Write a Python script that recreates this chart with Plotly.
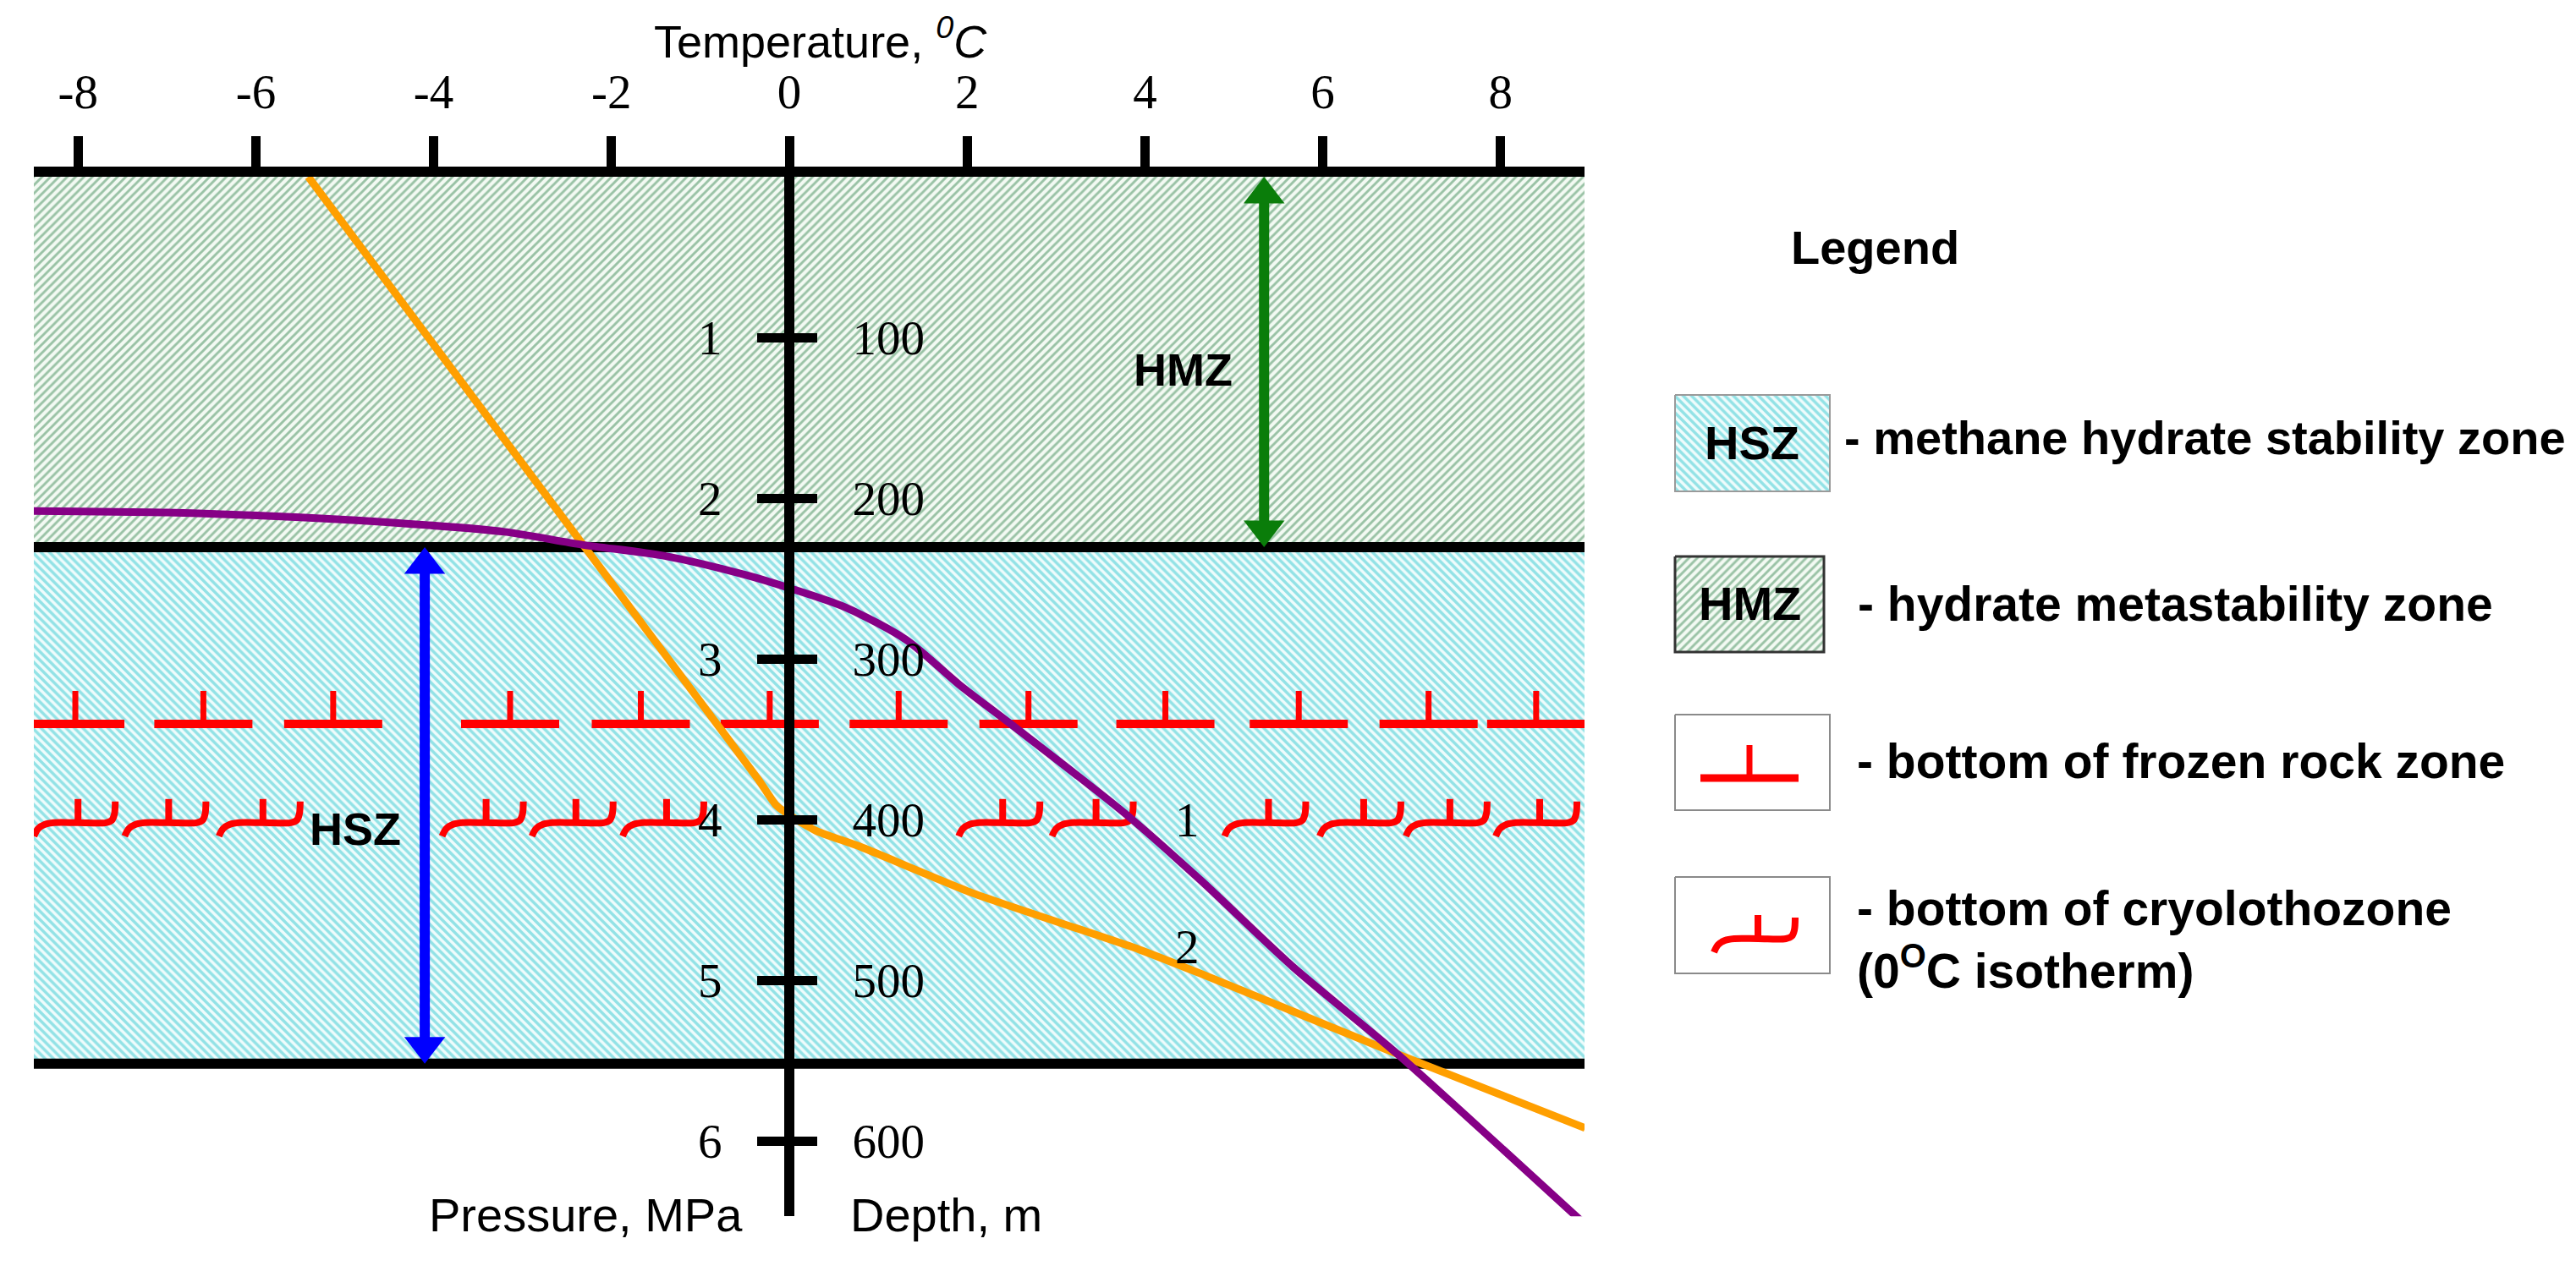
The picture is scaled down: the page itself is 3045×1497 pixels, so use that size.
import plotly.graph_objects as go

W, H = 3045, 1497

# ---------------- data ----------------
temp_ticks = [-8, -6, -4, -2, 0, 2, 4, 6, 8]
temp_tick_text = ["-8", "-6", "-4", "-2", "0", "2", "4", "6", "8"]
pressure_ticks = [1, 2, 3, 4, 5, 6]
depth_ticks = [100, 200, 300, 400, 500, 600]

hmz_bottom = 2.305  # MPa, base of hydrate metastability zone
hsz_bottom = 5.52   # MPa, base of hydrate stability zone

# curve 1 (purple) : hydrate equilibrium
curve1_t = [-8.55, -7.0, -5.5, -4.27, -3.2, -2.33, -1.4, -0.48, 0.0, 0.63, 1.31,
            1.91, 2.5, 3.77, 4.63, 5.65, 6.84, 8.04, 8.95]
curve1_p = [2.08, 2.09, 2.12, 2.16, 2.21, 2.29, 2.36, 2.48, 2.56, 2.68, 2.88,
            3.16, 3.41, 3.96, 4.38, 4.91, 5.46, 6.06, 6.52]
# curve 2 (orange) : geotherm
curve2_t = [-5.41, -0.35, -0.15, 0.05, 0.3, 0.8, 2.07, 3.94, 4.63, 6.84, 8.95]
curve2_p = [0.0, 3.75, 3.91, 3.99, 4.07, 4.17, 4.46, 4.81, 4.96, 5.46, 5.92]

frozen_p = 3.405
frozen_t = [-8.03, -6.59, -5.13, -3.14, -1.67, -0.22, 1.23, 2.69, 4.23, 5.73, 7.19, 8.40]
cryo_p = 4.02
cryo_t = [-8.0, -6.98, -5.92, -3.41, -2.40, -1.38, 2.40, 3.45, 5.39, 6.46, 7.43, 8.44]

hmz_arrow_t = 5.34
hsz_arrow_t = -4.10

# ---------------- layout constants ----------------
PX_L, PX_R = 32, 1865          # plot area in pixels
PX_T = 201
PX_PER_C = 105.1
PX_PER_MPA = 190.0
X0_PX = 925                    # pixel of T = 0
T_MIN = (PX_L - X0_PX) / PX_PER_C
T_MAX = (PX_R - X0_PX) / PX_PER_C
P_MAX = 6.47
PX_B = PX_T + P_MAX * PX_PER_MPA

RED = "#ff0000"
ORANGE = "#ff9f00"
PURPLE = "#860086"
GREEN = "#0a7d0a"
BLUE = "#0000ff"
SERIF = "Liberation Serif, Times New Roman, serif"
SANS = "Liberation Sans, Arial, sans-serif"

HMZ_PAT = dict(shape="/", fgcolor="#3f8a57", bgcolor="#f3faf3", size=7, solidity=0.42)
HSZ_PAT = dict(shape="\\", fgcolor="#36c8d0", bgcolor="#effcfc", size=7, solidity=0.5)

# symbol templates in pixels (dx, dy), dy positive downward
frozen_bar = [[(-58, 0), (58, 0)]]
frozen_stub = [[(0, 0), (0, -39)]]
cryo_hook = [[(-52, 16), (-47, 7), (-39, 2), (-28, 0), (0, 0), (33, 0), (40, -3), (43, -10), (44, -25)]]
cryo_stub = [[(0, 0), (0, -28)]]


def build(centers, base, template, sx, sy):
    xs, ys = [], []
    for c in centers:
        for seg in template:
            for dx, dy in seg:
                xs.append(c + dx / sx)
                ys.append(base + dy / sy)
            xs.append(None)
            ys.append(None)
    return xs, ys


fig = go.Figure()

# zones
fig.add_trace(go.Scatter(x=[T_MIN, T_MAX, T_MAX, T_MIN, T_MIN], y=[0, 0, hmz_bottom, hmz_bottom, 0],
                         fill="toself", mode="none", fillcolor=HMZ_PAT["bgcolor"], fillpattern=HMZ_PAT))
fig.add_trace(go.Scatter(x=[T_MIN, T_MAX, T_MAX, T_MIN, T_MIN],
                         y=[hmz_bottom, hmz_bottom, hsz_bottom, hsz_bottom, hmz_bottom],
                         fill="toself", mode="none", fillcolor=HSZ_PAT["bgcolor"], fillpattern=HSZ_PAT))

# zone boundaries
for pb in [hmz_bottom, hsz_bottom]:
    fig.add_trace(go.Scatter(x=[T_MIN, T_MAX], y=[pb, pb], mode="lines",
                             line=dict(color="black", width=12)))

# red symbols
x, y = build(frozen_t, frozen_p, frozen_bar, PX_PER_C, PX_PER_MPA)
fig.add_trace(go.Scatter(x=x, y=y, mode="lines", line=dict(color=RED, width=10)))
x, y = build(frozen_t, frozen_p, frozen_stub, PX_PER_C, PX_PER_MPA)
fig.add_trace(go.Scatter(x=x, y=y, mode="lines", line=dict(color=RED, width=7)))
x, y = build(cryo_t, cryo_p, cryo_hook, PX_PER_C, PX_PER_MPA)
fig.add_trace(go.Scatter(x=x, y=y, mode="lines", line=dict(color=RED, width=8, shape="spline")))
x, y = build(cryo_t, cryo_p, cryo_stub, PX_PER_C, PX_PER_MPA)
fig.add_trace(go.Scatter(x=x, y=y, mode="lines", line=dict(color=RED, width=8)))

# curves
fig.add_trace(go.Scatter(x=curve2_t, y=curve2_p, mode="lines",
                         line=dict(color=ORANGE, width=9, shape="spline", smoothing=0.5)))
fig.add_trace(go.Scatter(x=curve1_t, y=curve1_p, mode="lines",
                         line=dict(color=PURPLE, width=9, shape="spline", smoothing=0.8)))

# double-headed arrows (shaft + triangle heads)
HEAD = 42
head_off = (HEAD / 2) / PX_PER_MPA
for t, p_top, p_bot, col in [(hmz_arrow_t, 0.0, hmz_bottom, GREEN),
                             (hsz_arrow_t, hmz_bottom, hsz_bottom, BLUE)]:
    fig.add_trace(go.Scatter(x=[t, t], y=[p_top + head_off, p_bot - head_off], mode="lines",
                             line=dict(color=col, width=12)))
    fig.add_trace(go.Scatter(x=[t, t], y=[p_top + head_off, p_bot - head_off], mode="markers",
                             marker=dict(symbol=["triangle-up", "triangle-down"], size=HEAD,
                                         color=col, line=dict(width=0))))

# depth axis carrier (invisible)
fig.add_trace(go.Scatter(x=[0], y=[0], yaxis="y2", mode="markers", marker=dict(opacity=0)))

# ---------------- legend (pixel overlay axes) ----------------
LX0 = 0.62
boxes = [
    (1972, 2155, 459, 573, HSZ_PAT, "#9a9a9a", 2),
    (1972, 2148, 650, 763, HMZ_PAT, "#333333", 3),
    (1972, 2155, 837, 950, None, "#8a8a8a", 2),
    (1972, 2155, 1029, 1143, None, "#8a8a8a", 2),
]
for x0, x1, y0, y1, pat, lc, lw in boxes:
    kw = dict(fill="toself", fillcolor="white")
    if pat:
        kw = dict(fill="toself", fillcolor=pat["bgcolor"], fillpattern=pat)
    fig.add_trace(go.Scatter(x=[x0, x1, x1, x0, x0], y=[y0, y0, y1, y1, y0], mode="lines",
                             line=dict(color=lc, width=lw), xaxis="x3", yaxis="y3", **kw))

x, y = build([2060], 912, frozen_bar, 1, 1)
fig.add_trace(go.Scatter(x=x, y=y, mode="lines", line=dict(color=RED, width=9), xaxis="x3", yaxis="y3"))
x, y = build([2060], 912, frozen_stub, 1, 1)
fig.add_trace(go.Scatter(x=x, y=y, mode="lines", line=dict(color=RED, width=7), xaxis="x3", yaxis="y3"))
x, y = build([2070], 1102, cryo_hook, 1, 1)
fig.add_trace(go.Scatter(x=x, y=y, mode="lines", line=dict(color=RED, width=8, shape="spline"),
                         xaxis="x3", yaxis="y3"))
x, y = build([2070], 1102, cryo_stub, 1, 1)
fig.add_trace(go.Scatter(x=x, y=y, mode="lines", line=dict(color=RED, width=8), xaxis="x3", yaxis="y3"))

# ---------------- annotations ----------------
ann = []


def ptxt(text, px, py, size=56, family=SANS, xanchor="center", yanchor="middle", align="center", pad=1):
    ann.append(dict(text=text, x=px / W, y=1 - py / H, xref="paper", yref="paper", showarrow=False,
                    xanchor=xanchor, yanchor=yanchor, align=align, borderpad=pad,
                    font=dict(family=family, size=size, color="black")))


def dtxt(text, t, p, size=57, family=SERIF):
    ann.append(dict(text=text, x=t, y=p, xref="x", yref="y", showarrow=False,
                    font=dict(family=family, size=size, color="black")))


ptxt("Temperature, <i><sup>0</sup>C</i>", 962, 2, size=54, yanchor="top", pad=0)
ptxt("Pressure, MPa", 684, 1428)
ptxt("Depth, m", 1110, 1428)

dtxt("1", 4.48, 4.0)
dtxt("2", 4.48, 4.79)
dtxt("<b>HMZ</b>", 4.43, 1.20, size=54, family=SANS)
dtxt("<b>HSZ</b>", -4.88, 4.06, size=54, family=SANS)

ptxt("<b>Legend</b>", 2208, 284)
ptxt("<b>HSZ</b>", 2063, 515)
ptxt("<b>HMZ</b>", 2060, 706)
ptxt("<b>- methane hydrate stability zone</b>", 2170, 509, size=56, xanchor="left")
ptxt("<b>- hydrate metastability zone</b>", 2186, 706, size=57, xanchor="left")
ptxt("<b>- bottom of frozen rock zone</b>", 2185, 892, size=57, xanchor="left")
ptxt("<b>- bottom of cryolothozone<br>(0<sup>O</sup>C isotherm)</b>", 2185, 1103, size=57,
     xanchor="left", align="left")

fig.update_layout(
    width=W, height=H, autosize=False,
    margin=dict(l=0, r=0, t=0, b=0),
    paper_bgcolor="white", plot_bgcolor="rgba(0,0,0,0)",
    showlegend=False, hovermode=False,
    annotations=ann,
    xaxis=dict(domain=[PX_L / W, PX_R / W], range=[T_MIN, T_MAX], side="top", anchor="y",
               showline=True, linecolor="black", linewidth=12, ticks="outside", ticklen=36,
               tickwidth=11, tickcolor="black", tickvals=temp_ticks, ticktext=temp_tick_text,
               tickfont=dict(family=SERIF, size=57, color="black"), ticklabelstandoff=10,
               showgrid=False, zeroline=False, automargin=False),
    yaxis=dict(domain=[1 - PX_B / H, 1 - PX_T / H], range=[P_MAX, 0], anchor="free",
               position=X0_PX / W, side="left",
               showline=True, linecolor="black", linewidth=12, ticks="outside", ticklen=32,
               tickwidth=11, tickcolor="black", tickvals=pressure_ticks,
               tickfont=dict(family=SERIF, size=57, color="black"), ticklabelstandoff=30,
               showgrid=False, zeroline=False, automargin=False),
    yaxis2=dict(overlaying="y", range=[P_MAX * 100, 0], anchor="free",
                position=X0_PX / W, side="right",
                showline=False, ticks="outside", ticklen=32, tickwidth=11, tickcolor="black",
                tickvals=depth_ticks, tickfont=dict(family=SERIF, size=57, color="black"),
                ticklabelstandoff=30, showgrid=False, zeroline=False, automargin=False),
    xaxis3=dict(domain=[LX0, 1], range=[LX0 * W, W], anchor="y3", visible=False),
    yaxis3=dict(domain=[0, 1], range=[H, 0], anchor="x3", visible=False),
)

fig.write_html("out.html")
